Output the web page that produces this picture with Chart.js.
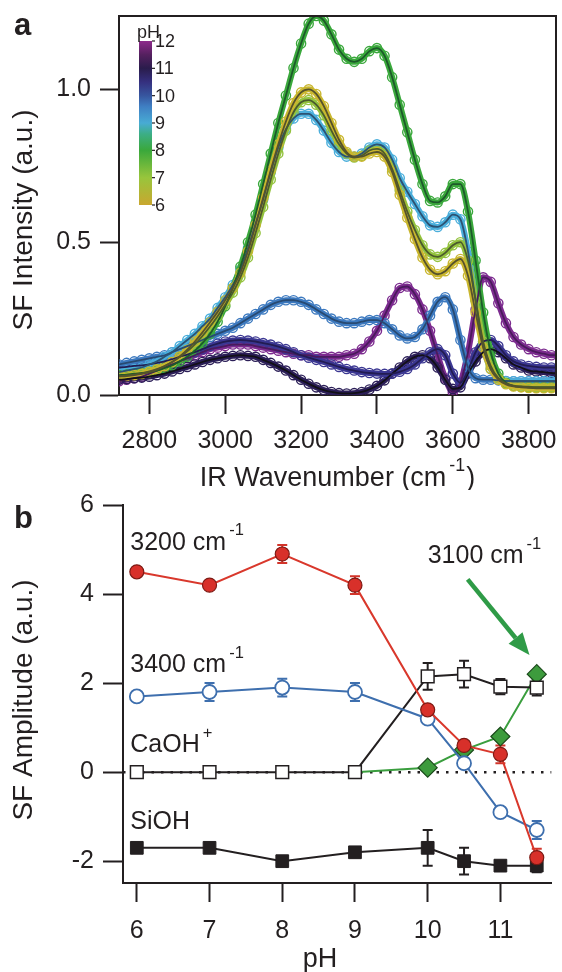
<!DOCTYPE html>
<html>
<head>
<meta charset="utf-8">
<script src="https://cdn.jsdelivr.net/npm/chart.js@4.4.1/dist/chart.umd.min.js"></script>
<style>
  html, body { margin: 0; padding: 0; background: #fff; }
  #contenedor { position: relative; width: 562px; height: 972px; }
  canvas { position: absolute; left: 0; }
  #graficaEspectros { top: 0; }
  #graficaAmplitudes { top: 490px; }
</style>
</head>
<body>
<div id="contenedor">
  <canvas id="graficaEspectros" width="562" height="490"></canvas>
  <canvas id="graficaAmplitudes" width="562" height="482"></canvas>
</div>
<script>
// ---- Panel a: espectros SF ----
const wavenumbers = [
  2720, 2740, 2760, 2780, 2800, 2820, 2840, 2860, 2880, 2900,
  2920, 2940, 2960, 2980, 3000, 3020, 3040, 3060, 3080, 3100,
  3120, 3140, 3160, 3180, 3200, 3220, 3240, 3260, 3280, 3300,
  3320, 3340, 3360, 3380, 3400, 3420, 3440, 3460, 3480, 3500,
  3520, 3540, 3560, 3580, 3600, 3620, 3640, 3660, 3680, 3700,
  3720, 3740, 3760, 3780, 3800, 3820, 3840, 3860, 3880
];
const spectrumPH = [6, 7, 8, 9, 10, 10.5, 11, 11.5];
const sfPH6 = [
  0.060, 0.062, 0.065, 0.069, 0.075, 0.083, 0.094, 0.108, 0.126, 0.148,
  0.175, 0.205, 0.238, 0.272, 0.310, 0.350, 0.400, 0.470, 0.555, 0.645,
  0.735, 0.820, 0.895, 0.955, 0.990, 1.000, 0.985, 0.945, 0.890, 0.835,
  0.795, 0.780, 0.780, 0.790, 0.795, 0.780, 0.730, 0.655, 0.580, 0.510,
  0.450, 0.410, 0.395, 0.405, 0.430, 0.445, 0.390, 0.270, 0.155, 0.085,
  0.050, 0.035, 0.028, 0.025, 0.023, 0.022, 0.022, 0.022, 0.022
];
const sfPH7 = [
  0.062, 0.064, 0.067, 0.071, 0.077, 0.085, 0.095, 0.108, 0.124, 0.143,
  0.166, 0.193, 0.224, 0.258, 0.295, 0.335, 0.385, 0.450, 0.530, 0.615,
  0.705, 0.790, 0.865, 0.925, 0.958, 0.965, 0.950, 0.915, 0.865, 0.820,
  0.790, 0.777, 0.783, 0.800, 0.805, 0.790, 0.740, 0.670, 0.600, 0.540,
  0.490, 0.460, 0.452, 0.465, 0.490, 0.500, 0.440, 0.310, 0.175, 0.095,
  0.055, 0.038, 0.031, 0.028, 0.027, 0.026, 0.026, 0.026, 0.026
];
const sfPH8 = [
  0.065, 0.067, 0.070, 0.072, 0.075, 0.080, 0.088, 0.097, 0.110, 0.125,
  0.145, 0.170, 0.200, 0.240, 0.290, 0.350, 0.420, 0.500, 0.590, 0.690,
  0.790, 0.890, 0.980, 1.070, 1.150, 1.215, 1.240, 1.225, 1.180, 1.130,
  1.100, 1.090, 1.100, 1.125, 1.135, 1.110, 1.040, 0.950, 0.860, 0.770,
  0.690, 0.635, 0.630, 0.650, 0.690, 0.690, 0.600, 0.440, 0.270, 0.140,
  0.070, 0.040, 0.030, 0.027, 0.025, 0.025, 0.025, 0.025, 0.025
];
const sfPH9 = [
  0.075, 0.080, 0.085, 0.090, 0.100, 0.110, 0.125, 0.140, 0.160, 0.180,
  0.200, 0.225, 0.250, 0.285, 0.320, 0.360, 0.410, 0.480, 0.560, 0.640,
  0.730, 0.810, 0.870, 0.905, 0.920, 0.920, 0.900, 0.865, 0.825, 0.795,
  0.780, 0.780, 0.790, 0.810, 0.820, 0.810, 0.770, 0.710, 0.665, 0.625,
  0.585, 0.555, 0.550, 0.565, 0.590, 0.575, 0.470, 0.310, 0.160, 0.085,
  0.055, 0.045, 0.045, 0.045, 0.045, 0.045, 0.045, 0.045, 0.045
];
const sfPH10 = [
  0.100, 0.105, 0.110, 0.115, 0.120, 0.125, 0.130, 0.140, 0.150, 0.160,
  0.170, 0.180, 0.190, 0.200, 0.210, 0.220, 0.235, 0.250, 0.265, 0.280,
  0.295, 0.305, 0.310, 0.310, 0.305, 0.295, 0.280, 0.265, 0.250, 0.240,
  0.235, 0.235, 0.240, 0.245, 0.245, 0.235, 0.215, 0.195, 0.185, 0.190,
  0.215, 0.260, 0.305, 0.320, 0.280, 0.180, 0.090, 0.055, 0.050, 0.050,
  0.048, 0.046, 0.045, 0.045, 0.045, 0.045, 0.045, 0.045, 0.045
];
const sfPH105 = [
  0.090, 0.092, 0.095, 0.097, 0.100, 0.105, 0.110, 0.117, 0.125, 0.132,
  0.140, 0.150, 0.160, 0.168, 0.175, 0.178, 0.180, 0.178, 0.175, 0.170,
  0.165, 0.158, 0.150, 0.140, 0.130, 0.122, 0.115, 0.108, 0.100, 0.092,
  0.085, 0.080, 0.075, 0.072, 0.070, 0.069, 0.070, 0.076, 0.085, 0.100,
  0.120, 0.140, 0.150, 0.130, 0.070, 0.040, 0.080, 0.140, 0.175, 0.180,
  0.160, 0.130, 0.110, 0.100, 0.095, 0.092, 0.090, 0.090, 0.090
];
const sfPH11 = [
  0.050, 0.052, 0.055, 0.057, 0.060, 0.065, 0.070, 0.077, 0.085, 0.092,
  0.100, 0.108, 0.115, 0.120, 0.125, 0.128, 0.130, 0.128, 0.125, 0.115,
  0.105, 0.093, 0.080, 0.065, 0.050, 0.037, 0.025, 0.016, 0.010, 0.006,
  0.005, 0.006, 0.010, 0.018, 0.030, 0.048, 0.070, 0.090, 0.110, 0.125,
  0.130, 0.120, 0.090, 0.050, 0.020, 0.025, 0.070, 0.110, 0.140, 0.150,
  0.140, 0.120, 0.100, 0.090, 0.080, 0.077, 0.075, 0.072, 0.070
];
const sfPH115 = [
  0.045, 0.050, 0.055, 0.060, 0.070, 0.080, 0.090, 0.100, 0.110, 0.120,
  0.130, 0.140, 0.150, 0.155, 0.160, 0.165, 0.165, 0.165, 0.160, 0.155,
  0.150, 0.145, 0.140, 0.135, 0.130, 0.130, 0.125, 0.125, 0.125, 0.125,
  0.130, 0.135, 0.150, 0.175, 0.210, 0.260, 0.310, 0.350, 0.355, 0.330,
  0.280, 0.210, 0.130, 0.055, 0.010, 0.040, 0.140, 0.280, 0.385, 0.370,
  0.300, 0.235, 0.190, 0.165, 0.150, 0.140, 0.135, 0.130, 0.130
];
const ticksWavenumber = [2800, 3000, 3200, 3400, 3600, 3800];
const ticksIntensidad = [0, 0.5, 1.0];
const ticksBarraPH = [6, 7, 8, 9, 10, 11, 12];

// ---- Panel b: amplitudes frente a pH ----
const phValues = [6, 7, 8, 9, 10, 10.5, 11, 11.5];
const amp3200 = [4.5, 4.2, 4.9, 4.2, 1.4, 0.6, 0.4, -1.92];
const err3200 = [0.05, 0.05, 0.2, 0.2, 0.05, 0.05, 0.2, 0.2];
const amp3400 = [1.7, 1.8, 1.9, 1.8, 1.2, 0.2, -0.9, -1.3];
const err3400 = [0.08, 0.2, 0.2, 0.2, 0.05, 0.05, 0.05, 0.2];
const ampCaOH = [0, 0, 0, 0, 2.15, 2.2, 1.92, 1.9];
const errCaOH = [0.1, 0.1, 0.1, 0.1, 0.3, 0.3, 0.17, 0.18];
const amp3100 = [null, null, null, 0, 0.1, 0.5, 0.8, 2.2];
const ampSiOH = [-1.7, -1.7, -2.0, -1.8, -1.7, -2.0, -2.1, -2.1];
const errSiOH = [0, 0, 0, 0, 0.4, 0.3, 0, 0.15];
const ticksPH = [6, 7, 8, 9, 10, 11];
const ticksAmplitud = [-2, 0, 2, 4, 6];

// Estilos
const FUENTE = '"Liberation Sans", Arial, Helvetica, sans-serif';
const NEGRO = '#231f20';
const coloresPH = ['#c9b62e', '#93c23e', '#3aa83c', '#4aaedb', '#3c79bf', '#3b3792', '#2b1e57', '#7c2b8f'];
const coloresAjuste = ['#56522c', '#4b5a2c', '#1d5a2a', '#2c5272', '#284a72', '#221c52', '#121018', '#4a1a5c'];
const seriesSF = [sfPH6, sfPH7, sfPH8, sfPH9, sfPH10, sfPH105, sfPH11, sfPH115];

Chart.defaults.font.family = FUENTE;
Chart.defaults.color = NEGRO;

// Texto con superindices: partes = [[texto, esSup], ...]
function escribir(ctx, partes, x, y, tam, alinear) {
  const anchos = partes.map(([t, sup]) => {
    ctx.font = (sup ? tam * 0.66 : tam) + 'px ' + FUENTE;
    return ctx.measureText(t).width + (sup ? 4 : 0);
  });
  const total = anchos.reduce((a, b) => a + b, 0);
  let cx = alinear === 'center' ? x - total / 2 : (alinear === 'right' ? x - total : x);
  ctx.textAlign = 'left';
  ctx.textBaseline = 'middle';
  ctx.fillStyle = NEGRO;
  partes.forEach(([t, sup], i) => {
    ctx.font = (sup ? tam * 0.66 : tam) + 'px ' + FUENTE;
    ctx.fillText(t, cx + (sup ? 3 : 0), sup ? y - tam * 0.48 : y);
    cx += anchos[i];
  });
}

// sin relleno extra de Chart.js por las etiquetas en los extremos
function sinRelleno(s) {
  s.paddingTop = 0; s.paddingBottom = 0; s.paddingLeft = 0; s.paddingRight = 0;
}

function ejeComun(extra) {
  return Object.assign({
    type: 'linear',
    grid: { drawOnChartArea: false, drawTicks: true, tickLength: 19, tickWidth: 2, tickColor: NEGRO },
    border: { display: true, width: 2, color: NEGRO },
  }, extra);
}

// ---- Grafica a ----
const datasetsA = [];
seriesSF.forEach((serie, k) => {
  const puntos = wavenumbers.map((w, i) => ({ x: w, y: serie[i] }));
  datasetsA.push({
    label: 'ajuste pH ' + spectrumPH[k],
    data: puntos,
    borderColor: coloresAjuste[k],
    borderWidth: 1.8,
    pointRadius: 0,
    cubicInterpolationMode: 'monotone',
    order: 0
  });
  datasetsA.push({
    label: 'pH ' + spectrumPH[k],
    data: puntos,
    borderColor: coloresPH[k],
    borderWidth: 6,
    pointRadius: 4.6,
    pointBorderWidth: 1.4,
    pointBorderColor: coloresPH[k],
    pointBackgroundColor: 'rgba(255,255,255,0)',
    cubicInterpolationMode: 'monotone',
    order: 1
  });
});

const decoracionA = {
  id: 'decoracionA',
  afterDraw(chart) {
    const { ctx, chartArea: { left, top, right, bottom } } = chart;
    ctx.save();
    // marco superior y derecho
    ctx.strokeStyle = NEGRO;
    ctx.lineWidth = 2;
    ctx.beginPath();
    ctx.moveTo(left, top);
    ctx.lineTo(right, top);
    ctx.lineTo(right, bottom);
    ctx.stroke();

    // barra de color pH
    const bx = left + 20, bTop = top + 25, bBot = top + 189, bw = 13;
    const grad = ctx.createLinearGradient(0, bBot, 0, bTop);
    grad.addColorStop(0, '#c9a72f');
    grad.addColorStop(1 / 6, '#98c53c');
    grad.addColorStop(2 / 6, '#3aa83b');
    grad.addColorStop(2.6 / 6, '#3cae86');
    grad.addColorStop(3 / 6, '#48abd4');
    grad.addColorStop(3.6 / 6, '#3f7fc3');
    grad.addColorStop(4 / 6, '#37569f');
    grad.addColorStop(4.5 / 6, '#35307f');
    grad.addColorStop(5 / 6, '#2a1c4c');
    grad.addColorStop(5.5 / 6, '#55205f');
    grad.addColorStop(1, '#8e2a8c');
    ctx.fillStyle = grad;
    ctx.fillRect(bx, bTop, bw, bBot - bTop);
    ctx.lineWidth = 1.2;
    ctx.font = '18px ' + FUENTE;
    ctx.fillStyle = NEGRO;
    ctx.textBaseline = 'middle';
    ctx.textAlign = 'left';
    ticksBarraPH.forEach(v => {
      const py = bBot - (v - 6) / 6 * (bBot - bTop);
      ctx.beginPath();
      ctx.moveTo(bx + bw, py);
      ctx.lineTo(bx + bw + 3, py);
      ctx.stroke();
      ctx.fillText(String(v), bx + bw + 3, py + 1);
    });
    ctx.fillText('pH', bx - 2, bTop - 8);

    // letra del panel
    ctx.font = 'bold 31px ' + FUENTE;
    ctx.textBaseline = 'alphabetic';
    ctx.fillText('a', 14, 35);

    // titulos de ejes
    escribir(ctx, [['IR Wavenumber (cm'], ['-1', true], [')']], (left + right) / 2, 479, 27, 'center');
    ctx.translate(24, 220);
    ctx.rotate(-Math.PI / 2);
    escribir(ctx, [['SF Intensity (a.u.)']], 0, 0, 28, 'center');
    ctx.restore();
  }
};

new Chart(document.getElementById('graficaEspectros'), {
  type: 'line',
  data: { datasets: datasetsA },
  options: {
    responsive: false,
    animation: false,
    events: [],
    layout: { padding: { left: 0, top: 16, right: 4, bottom: 0 } },
    plugins: { legend: { display: false }, tooltip: { enabled: false } },
    scales: {
      x: ejeComun({
        min: 2720, max: 3872,
        afterBuildTicks: s => { s.ticks = ticksWavenumber.map(v => ({ value: v })); },
        afterFit: s => { s.height = 95; sinRelleno(s); },
        ticks: { font: { size: 25 }, padding: 12, maxRotation: 0, autoSkip: false, callback: v => String(v) }
      }),
      y: ejeComun({
        min: 0, max: 1.24,
        afterBuildTicks: s => { s.ticks = ticksIntensidad.map(v => ({ value: v })); },
        afterFit: s => { s.width = 119; sinRelleno(s); },
        ticks: { font: { size: 25 }, padding: 9, autoSkip: false, callback: v => v.toFixed(1) }
      })
    }
  },
  plugins: [decoracionA]
});

// ---- Grafica b ----
function serie(valores) {
  return phValues.map((p, i) => ({ x: p, y: valores[i] })).filter(d => d.y !== null);
}

const etiquetasB = [
  { partes: [['3200 cm'], ['-1', true]], x: 5.91, y: 5.15 },
  { partes: [['3400 cm'], ['-1', true]], x: 5.91, y: 2.40 },
  { partes: [['CaOH'], ['+', true]], x: 5.91, y: 0.61 },
  { partes: [['SiOH']], x: 5.91, y: -1.12 },
  { partes: [['3100 cm'], ['-1', true]], x: 10.0, y: 4.85 }
];
const flecha3100 = { desde: [10.55, 4.33], hasta: [11.40, 2.63] };

const barrasError = {
  id: 'barrasError',
  beforeDatasetsDraw(chart) {
    const { ctx, chartArea, scales: { x, y } } = chart;
    ctx.save();
    // linea punteada en cero
    const y0 = y.getPixelForValue(0);
    ctx.strokeStyle = NEGRO;
    ctx.lineWidth = 2.5;
    ctx.setLineDash([2.5, 7]);
    ctx.beginPath();
    ctx.moveTo(chartArea.left, y0);
    ctx.lineTo(chartArea.right, y0);
    ctx.stroke();
    ctx.setLineDash([]);
    chart.data.datasets.forEach(ds => {
      if (!ds.errores) return;
      ctx.strokeStyle = ds.colorError;
      ctx.lineWidth = 2;
      ds.data.forEach((p, i) => {
        const e = ds.errores[i];
        if (!e) return;
        const px = x.getPixelForValue(p.x);
        const y1 = y.getPixelForValue(p.y + e);
        const y2 = y.getPixelForValue(p.y - e);
        ctx.beginPath();
        ctx.moveTo(px, y1); ctx.lineTo(px, y2);
        ctx.moveTo(px - 5, y1); ctx.lineTo(px + 5, y1);
        ctx.moveTo(px - 5, y2); ctx.lineTo(px + 5, y2);
        ctx.stroke();
      });
    });
    ctx.restore();
  },
  afterDraw(chart) {
    const { ctx, scales: { x, y } } = chart;
    ctx.save();
    etiquetasB.forEach(e => {
      escribir(ctx, e.partes, x.getPixelForValue(e.x), y.getPixelForValue(e.y), 25, 'left');
    });
    // flecha verde
    const x1 = x.getPixelForValue(flecha3100.desde[0]), y1 = y.getPixelForValue(flecha3100.desde[1]);
    const x2 = x.getPixelForValue(flecha3100.hasta[0]), y2 = y.getPixelForValue(flecha3100.hasta[1]);
    const ang = Math.atan2(y2 - y1, x2 - x1), largo = 22, ancho = 9;
    const bxp = x2 - largo * Math.cos(ang), byp = y2 - largo * Math.sin(ang);
    ctx.strokeStyle = '#2f9b47';
    ctx.fillStyle = '#2f9b47';
    ctx.lineWidth = 4.5;
    ctx.beginPath();
    ctx.moveTo(x1, y1);
    ctx.lineTo(bxp, byp);
    ctx.stroke();
    ctx.beginPath();
    ctx.moveTo(x2, y2);
    ctx.lineTo(bxp + ancho * Math.sin(ang), byp - ancho * Math.cos(ang));
    ctx.lineTo(bxp - ancho * Math.sin(ang), byp + ancho * Math.cos(ang));
    ctx.closePath();
    ctx.fill();

    // letra y titulos
    ctx.font = 'bold 31px ' + FUENTE;
    ctx.fillStyle = NEGRO;
    ctx.textAlign = 'left';
    ctx.textBaseline = 'alphabetic';
    ctx.fillText('b', 14, 38);
    escribir(ctx, [['pH']], 320, 470, 27, 'center');
    ctx.translate(24, 210);
    ctx.rotate(-Math.PI / 2);
    escribir(ctx, [['SF Amplitude (a.u.)']], 0, 0, 28, 'center');
    ctx.restore();
  }
};

new Chart(document.getElementById('graficaAmplitudes'), {
  type: 'line',
  data: {
    datasets: [
      {
        label: '3200 cm-1', data: serie(amp3200), errores: err3200, colorError: '#d2342a',
        borderColor: '#d9382c', borderWidth: 2, tension: 0,
        pointRadius: 7, pointBackgroundColor: '#d8302a', pointBorderColor: '#7d1a14', pointBorderWidth: 1.2,
        order: 0
      },
      {
        label: '3400 cm-1', data: serie(amp3400), errores: err3400, colorError: '#3e6fae',
        borderColor: '#3e6fae', borderWidth: 2, tension: 0,
        pointRadius: 7, pointBackgroundColor: '#ffffff', pointBorderColor: '#3e6fae', pointBorderWidth: 1.8,
        order: 1
      },
      {
        label: 'CaOH+', data: serie(ampCaOH), errores: errCaOH, colorError: NEGRO,
        borderColor: NEGRO, borderWidth: 2, tension: 0, pointStyle: 'rect',
        pointRadius: 9, pointBackgroundColor: '#ffffff', pointBorderColor: NEGRO, pointBorderWidth: 1.5,
        order: 2
      },
      {
        label: '3100 cm-1', data: serie(amp3100),
        borderColor: '#3a9e3e', borderWidth: 2, tension: 0, pointStyle: 'rectRot',
        pointRadius: c => (c.dataIndex === 0 ? 0 : 9.5),
        pointBackgroundColor: '#3d9b3d', pointBorderColor: '#1b4a1b', pointBorderWidth: 1.2,
        order: 3
      },
      {
        label: 'SiOH', data: serie(ampSiOH), errores: errSiOH, colorError: NEGRO,
        borderColor: NEGRO, borderWidth: 2, tension: 0, pointStyle: 'rect',
        pointRadius: 9, pointBackgroundColor: NEGRO, pointBorderColor: NEGRO, pointBorderWidth: 1,
        order: 4
      }
    ]
  },
  options: {
    responsive: false,
    animation: false,
    events: [],
    layout: { padding: { left: 0, top: 15, right: 1, bottom: 0 } },
    plugins: { legend: { display: false }, tooltip: { enabled: false } },
    scales: {
      x: ejeComun({
        min: 5.81, max: 11.7,
        afterBuildTicks: s => { s.ticks = ticksPH.map(v => ({ value: v })); },
        afterFit: s => { s.height = 89; sinRelleno(s); },
        ticks: { font: { size: 25 }, padding: 14, maxRotation: 0, autoSkip: false, callback: v => String(v) }
      }),
      y: ejeComun({
        min: -2.49, max: 6,
        afterBuildTicks: s => { s.ticks = ticksAmplitud.map(v => ({ value: v })); },
        afterFit: s => { s.width = 123; sinRelleno(s); },
        grid: { drawOnChartArea: false, drawTicks: true, tickLength: 20, tickWidth: 2, tickColor: NEGRO },
        ticks: { font: { size: 25 }, padding: 9, autoSkip: false, callback: v => String(v) }
      })
    }
  },
  plugins: [barrasError]
});
</script>
</body>
</html>
